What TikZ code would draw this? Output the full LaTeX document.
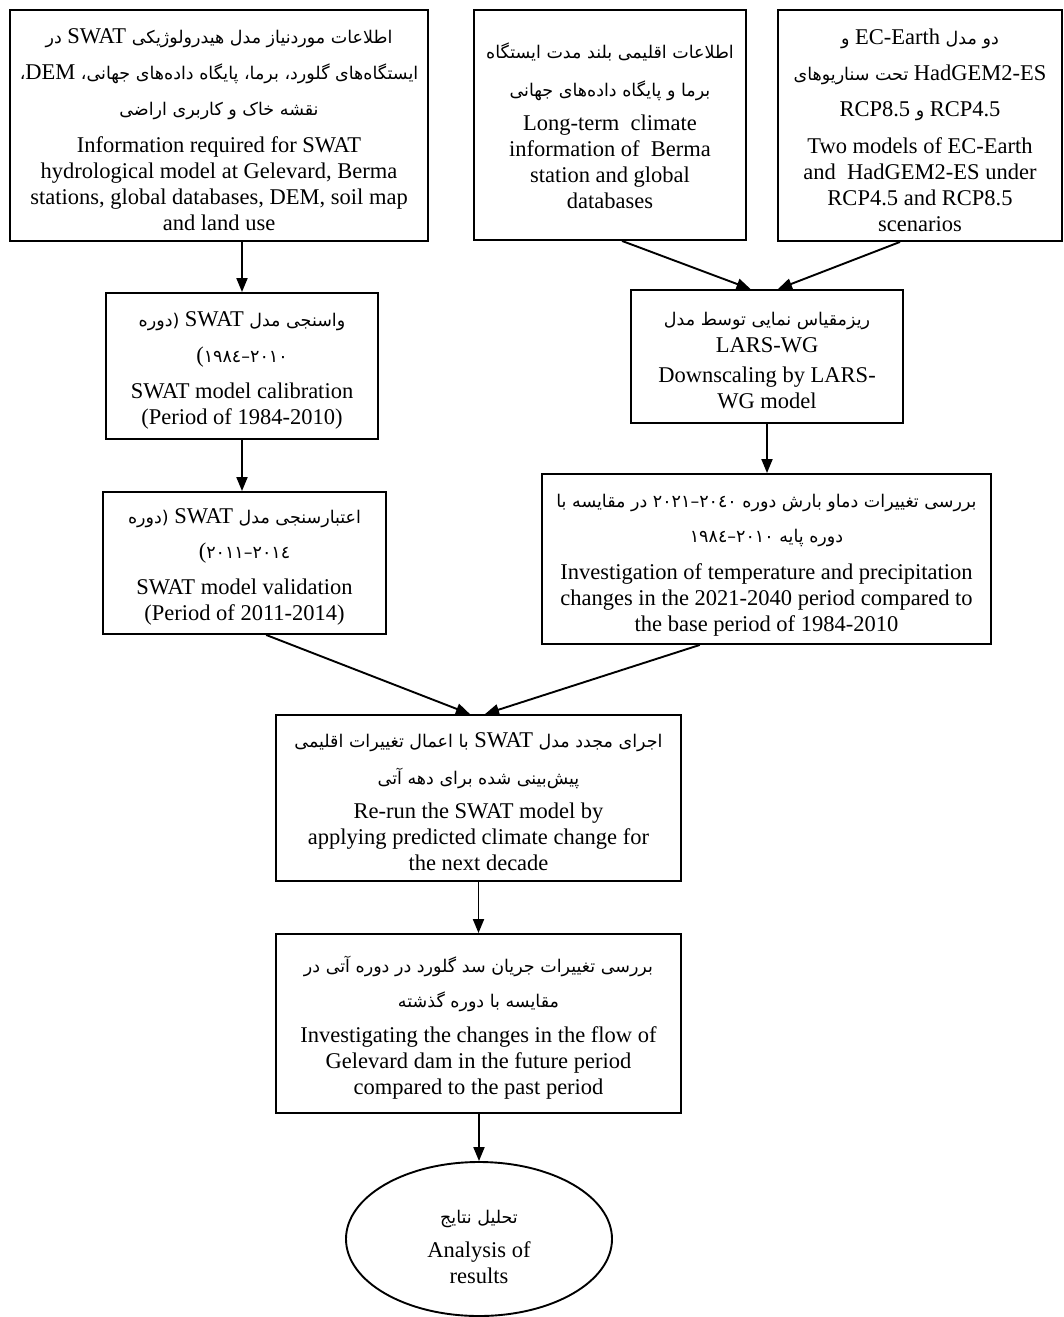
\documentclass[tikz,border=0pt]{standalone}
\usepackage{fontspec}
\setmainfont{Liberation Serif}
\newfontfamily\fafont[Script=Arabic]{DejaVu Sans}
\TeXXeTstate=1
\usetikzlibrary{arrows.meta,shapes.geometric,calc}
\newcommand{\fl}[1]{{\fafont\fontsize{17.5}{26}\selectfont\beginR #1\endR}}
\newcommand{\lt}[1]{{\rmfamily\fontsize{22.5}{26}\selectfont #1}}
\newcommand{\dg}[1]{{\fafont\fontsize{17.5}{26}\selectfont #1}}
\newcommand{\rng}[2]{\beginL\dg{\hbox{#1}\hbox{–}\hbox{#2}}\endL}
\tikzset{
  box/.style={draw, line width=1.9pt, rectangle, inner sep=0pt},
  oval/.style={draw, line width=1.9pt, ellipse, inner sep=0pt},
  txt/.style={inner sep=0pt, align=center, font=\fontsize{22.5}{26}\selectfont},
  arr/.style={line width=1.9pt, -{Triangle[length=14pt,width=11pt]}}
}
\begin{document}
\begin{tikzpicture}[x=1pt,y=-1pt]
\useasboundingbox (0,0) rectangle (1063,1317);

\node[box, minimum width=418pt, minimum height=231pt] (b1) at (219,125.5) {};
\node[txt] (t1) at ([yshift=-4pt]b1.center)
{\fl{اطلاعات موردنیاز مدل هیدرولوژیکی \lt{SWAT} در}\\[10pt]
 \fl{ایستگاه‌های گلورد، برما، پایگاه داده‌های جهانی، \lt{DEM}،}\\[10pt]
 \fl{نقشه خاک و کاربری اراضی}\\[11pt]
 Information required for SWAT\\
 hydrological model at Gelevard, Berma\\
 stations, global databases, DEM, soil map\\
 and land use};

\node[box, minimum width=272pt, minimum height=230pt] (b2) at (610,125) {};
\node[txt] (t2) at ([yshift=-1pt]b2.center)
{\fl{اطلاعات اقلیمی بلند مدت ایستگاه}\\[12pt]
 \fl{برما و پایگاه داده‌های جهانی}\\[8pt]
 Long-term\ \ climate\\
 information of\ \ Berma\\
 station and global\\
 databases};

\node[box, minimum width=284pt, minimum height=231pt] (b3) at (920,125.5) {};
\node[txt] (t3) at ([yshift=-4.5pt]b3.center)
{\fl{دو مدل \lt{EC-Earth} و}\\[10pt]
 \fl{\lt{HadGEM2-ES} تحت سناریوهای}\\[10pt]
 \fl{\lt{RCP4.5} و \lt{RCP8.5}}\\[11pt]
 Two models of EC-Earth\\
 and\ \ HadGEM2-ES under\\
 RCP4.5 and RCP8.5\\
 scenarios};

\node[box, minimum width=272pt, minimum height=146pt] (b4) at (242,366) {};
\node[txt] (t4) at ([yshift=-4pt]b4.center)
{\fl{واسنجی مدل \lt{SWAT} (دوره}\\[10pt]
 \beginL\lt{\hbox{(}}\dg{\hbox{١٩٨٤}\hbox{–}\hbox{٢٠١٠}}\endL\\[10pt]
 SWAT model calibration\\
 (Period of 1984-2010)};

\node[box, minimum width=272pt, minimum height=133pt] (b5) at (767,356.5) {};
\node[txt] (t5) at ([yshift=-4pt]b5.center)
{\fl{ریزمقیاس نمایی توسط مدل}\\[1pt]
 LARS-WG\\[4pt]
 Downscaling by LARS-\\
 WG model};

\node[box, minimum width=283pt, minimum height=142pt] (b6) at (244.5,563) {};
\node[txt] (t6) at ([yshift=-4pt]b6.center)
{\fl{اعتبارسنجی مدل \lt{SWAT} (دوره}\\[9pt]
 \beginL\lt{\hbox{(}}\dg{\hbox{٢٠١١}\hbox{–}\hbox{٢٠١٤}}\endL\\[10pt]
 SWAT model validation\\
 (Period of 2011-2014)};

\node[box, minimum width=449pt, minimum height=170pt] (b7) at (766.5,559) {};
\node[txt] (t7) at ([yshift=-6pt]b7.center)
{\fl{بررسی تغییرات دماو بارش دوره \rng{٢٠٢١}{٢٠٤٠} در مقایسه با}\\[9pt]
 \fl{دوره پایه \rng{١٩٨٤}{٢٠١٠}}\\[11pt]
 Investigation of temperature and precipitation\\
 changes in the 2021-2040 period compared to\\
 the base period of 1984-2010};

\node[box, minimum width=405pt, minimum height=166pt] (b8) at (478.5,798) {};
\node[txt] (t8) at ([yshift=-4pt]b8.center)
{\fl{اجرای مجدد مدل \lt{SWAT} با اعمال تغییرات اقلیمی}\\[11pt]
 \fl{پیش‌بینی شده برای دهه آتی}\\[8pt]
 Re-run the SWAT model by\\
 applying predicted climate change for\\
 the next decade};

\node[box, minimum width=405pt, minimum height=179pt] (b9) at (478.5,1023.5) {};
\node[txt] (t9) at ([yshift=-4pt]b9.center)
{\fl{بررسی تغییرات جریان سد گلورد در دوره آتی در}\\[9pt]
 \fl{مقایسه با دوره گذشته}\\[9pt]
 Investigating the changes in the flow of\\
 Gelevard dam in the future period\\
 compared to the past period};

\node[oval, minimum width=266pt, minimum height=154pt] (e) at (479,1239) {};
\node[txt] (te) at ([yshift=-8pt]e.center)
{\fl{تحلیل نتایج}\\[8pt]
 Analysis of\\
 results};

\draw[arr] (b1.south -| b4.north) -- (b4.north);
\draw[arr] (b4.south) -- (b4.south |- b6.north);
\draw[arr] ($(b2.south west)!0.544!(b2.south east)$) -- ($(b5.north west)!0.44!(b5.north east)$);
\draw[arr] ($(b3.south west)!0.43!(b3.south east)$) -- ($(b5.north west)!0.54!(b5.north east)$);
\draw[arr] (b5.south) -- (b5.south |- b7.north);
\draw[arr] ($(b6.south west)!0.576!(b6.south east)$) -- ($(b8.north west)!0.479!(b8.north east)$);
\draw[arr] ($(b7.south west)!0.352!(b7.south east)$) -- ($(b8.north west)!0.516!(b8.north east)$);
\draw[arr] (b8.south) -- (b9.north);
\draw[arr] (b9.south -| e.north) -- (e.north);
\end{tikzpicture}
\end{document}
